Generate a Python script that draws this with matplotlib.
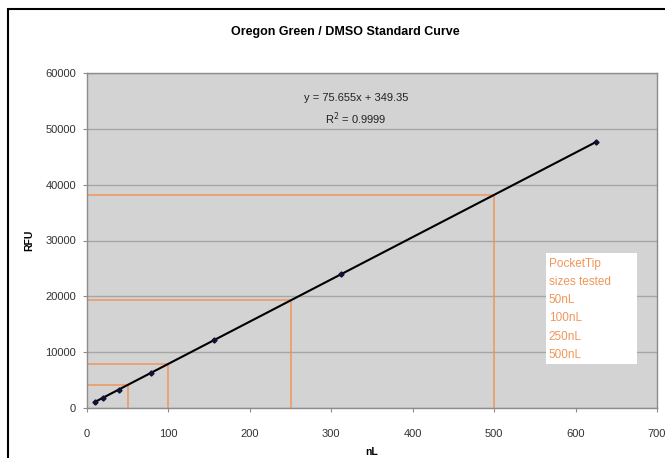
import matplotlib
matplotlib.use("Agg")
import matplotlib.pyplot as plt
from matplotlib.patches import Rectangle

plt.rcParams.update({"font.family": ["Liberation Sans", "DejaVu Sans"]})

# standard curve data (serial dilution)
x_nl = [9.77, 19.53, 39.06, 78.13, 156.25, 312.5, 625.0]
rfu = [1080, 1830, 3290, 6250, 12190, 24010, 47610]
slope, intercept = 75.655, 349.35
r2 = 0.9999
tip_sizes = [50, 100, 250, 500]
box_lines = ["PocketTip", "sizes tested", "50nL", "100nL", "250nL", "500nL"]

ORANGE = "#f0965a"
GRID = "#a6a6a6"
FACE = "#d3d3d3"

fig = plt.figure(figsize=(6.65, 4.58), dpi=100)
ax = fig.add_axes([87 / 665, 1 - 408 / 458, 570 / 665, 335 / 458])
ax.set_facecolor(FACE)
ax.set_xlim(0, 700)
ax.set_ylim(0, 60000)
ax.set_xticks(range(0, 701, 100))
ax.set_yticks(range(0, 60001, 10000))
ax.yaxis.grid(True, color=GRID, lw=1.0)
ax.set_axisbelow(True)
for s in ax.spines.values():
    s.set_color("#8c8c8c")
    s.set_linewidth(1.0)
ax.tick_params(labelsize=8, colors="#8c8c8c", labelcolor="#333333", length=3)
ax.tick_params(axis="x", pad=12)
ax.tick_params(axis="y", pad=5)

# orange guides for tested tip sizes
for t in tip_sizes:
    yv = slope * t + intercept
    ax.plot([0, t], [yv, yv], color=ORANGE, lw=1.1, zorder=2)
    ax.plot([t, t], [0, yv], color=ORANGE, lw=1.1, zorder=2)

# trendline + points
xs = [min(x_nl), max(x_nl)]
ax.plot(xs, [slope * v + intercept for v in xs], color="black", lw=1.5, zorder=3)
ax.plot(x_nl, rfu, ls="none", marker="D", ms=2.6, color="#111133", zorder=4)

ax.text(330, 55500, f"y = {slope}x + {intercept}", ha="center", va="center",
        fontsize=8, color="#222222")
ax.text(330, 51800, f"R$^2$ = {r2}", ha="center", va="center",
        fontsize=8, color="#222222")

# text box of tested sizes
ax.add_patch(Rectangle((564, 7900), 112, 19900, fc="white", ec="none", zorder=5))
for i, line in enumerate(box_lines):
    ax.text(567, 25800 - i * 3250, line, ha="left", va="center", fontsize=8.5,
            color=ORANGE, zorder=6)

ax.set_xlabel("nL", fontsize=7.5, fontweight="bold", labelpad=6)
ax.set_ylabel("RFU", fontsize=7.5, fontweight="bold", labelpad=8)
fig.text(345 / 665, 1 - 32 / 458, "Oregon Green / DMSO Standard Curve",
         ha="center", va="center", fontsize=9, fontweight="bold")

# chart-area border
fig.patches.append(Rectangle((8 / 665, -0.05), 1.1, 1 - 9 / 458 + 0.05,
                             transform=fig.transFigure, fill=False,
                             ec="black", lw=1.5))

fig.savefig("out.png", dpi=100)
